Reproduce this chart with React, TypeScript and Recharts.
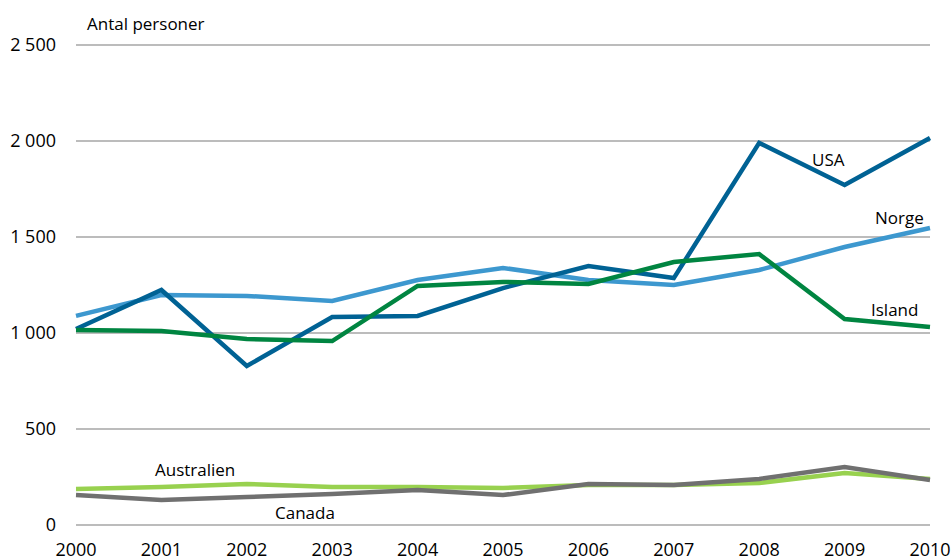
import React from 'react';
import { LineChart, Line, XAxis, YAxis, CartesianGrid, Customized } from 'recharts';

const years = ['2000', '2001', '2002', '2003', '2004', '2005', '2006', '2007', '2008', '2009', '2010'];
const usa = [1021, 1224, 828, 1083, 1089, 1234, 1349, 1286, 1990, 1771, 2016];
const norge = [1089, 1198, 1193, 1167, 1276, 1339, 1276, 1250, 1328, 1448, 1547];
const island = [1016, 1010, 969, 958, 1245, 1266, 1255, 1370, 1411, 1073, 1031];
const australien = [188, 198, 214, 198, 198, 193, 208, 208, 219, 271, 240];
const canada = [156, 130, 146, 161, 182, 156, 214, 208, 240, 302, 234];
const yTicks = [0, 500, 1000, 1500, 2000, 2500];

const data = years.map((y, i) => ({
  year: y,
  USA: usa[i],
  Norge: norge[i],
  Island: island[i],
  Australien: australien[i],
  Canada: canada[i],
}));

const FONT = '"Open Sans", sans-serif';

const fmt = (v: number) => (v >= 1000 ? `${Math.floor(v / 1000)} ${String(v % 1000).padStart(3, '0')}` : String(v));

const Labels = () => (
  <g fontFamily={FONT} fontSize={17} fill="#000">
    <text x={87} y={30}>Antal personer</text>
    <text x={812} y={166}>USA</text>
    <text x={875} y={224}>Norge</text>
    <text x={871} y={316}>Island</text>
    <text x={155} y={476}>Australien</text>
    <text x={275} y={519}>Canada</text>
  </g>
);

export default function App() {
  return (
    <div style={{ position: 'absolute', left: 0, top: 0, background: '#fff' }}>
      <LineChart
        width={951}
        height={558}
        data={data}
        margin={{ top: 45, right: 21, bottom: 0, left: 0 }}
      >
        <CartesianGrid horizontal vertical={false} stroke="#a6a6a6" strokeWidth={1.5} />
        <XAxis
          dataKey="year"
          axisLine={false}
          tickLine={false}
          tickSize={0}
          tickMargin={18}
          height={33}
          interval={0}
          tick={{ fontFamily: FONT, fontSize: 18, fill: '#000' }}
        />
        <YAxis
          domain={[0, 2500]}
          ticks={yTicks}
          axisLine={false}
          tickLine={false}
          tickSize={0}
          tickMargin={20}
          width={76}
          tickFormatter={fmt}
          tick={{ fontFamily: FONT, fontSize: 18, fill: '#000' }}
        />
        <Line type="linear" dataKey="Norge" stroke="#3d98cf" strokeWidth={4.5} dot={false} isAnimationActive={false} />
        <Line type="linear" dataKey="USA" stroke="#006294" strokeWidth={4.5} dot={false} isAnimationActive={false} />
        <Line type="linear" dataKey="Island" stroke="#008541" strokeWidth={4.5} dot={false} isAnimationActive={false} />
        <Line type="linear" dataKey="Australien" stroke="#98d14f" strokeWidth={4.5} dot={false} isAnimationActive={false} />
        <Line type="linear" dataKey="Canada" stroke="#707070" strokeWidth={4.5} dot={false} isAnimationActive={false} />
        <Customized component={Labels} />
      </LineChart>
    </div>
  );
}
